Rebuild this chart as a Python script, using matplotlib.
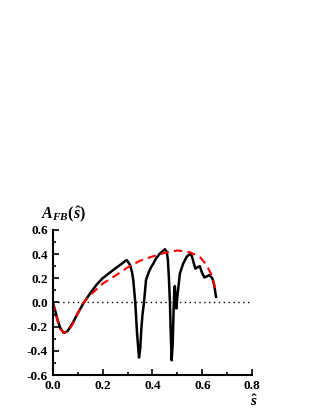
import matplotlib.pyplot as plt
import numpy as np
from matplotlib.ticker import MultipleLocator, FuncFormatter

plt.rcParams['font.family'] = 'Liberation Serif'
plt.rcParams['font.weight'] = 'bold'
plt.rcParams['mathtext.fontset'] = 'custom'
plt.rcParams['mathtext.it'] = 'Liberation Serif:italic:bold'
plt.rcParams['mathtext.rm'] = 'Liberation Serif:bold'

# full model (black)
s_full = [0, 0.01, 0.02, 0.03, 0.043, 0.05, 0.06, 0.08, 0.10, 0.125, 0.15, 0.175,
          0.2, 0.25, 0.28, 0.29, 0.297, 0.31, 0.318, 0.323, 0.331, 0.338, 0.346,
          0.351, 0.355, 0.36, 0.366, 0.374, 0.385, 0.394, 0.403, 0.415, 0.43,
          0.45, 0.457, 0.462, 0.466, 0.47, 0.474, 0.477, 0.481, 0.485, 0.488,
          0.490, 0.493, 0.496, 0.50, 0.51, 0.523, 0.537, 0.55, 0.558, 0.565,
          0.572, 0.58, 0.59, 0.598, 0.608, 0.618, 0.628, 0.64, 0.646, 0.651, 0.655]
afb_full = [0, -0.07, -0.15, -0.21, -0.25, -0.248, -0.235, -0.17, -0.09, 0.0, 0.075,
            0.145, 0.2, 0.28, 0.325, 0.342, 0.35, 0.31, 0.25, 0.185, 0.0, -0.25,
            -0.455, -0.38, -0.23, -0.1, 0.0, 0.185, 0.25, 0.29, 0.32, 0.365, 0.405,
            0.44, 0.42, 0.35, 0.2, 0.0, -0.3, -0.478, -0.35, -0.05, 0.12, 0.135,
            0.0, -0.05, 0.05, 0.24, 0.32, 0.377, 0.40, 0.385, 0.33, 0.28, 0.29,
            0.30, 0.25, 0.207, 0.215, 0.226, 0.20, 0.16, 0.1, 0.046]

# non-resonant (red dashed)
s_nr = [0, 0.01, 0.02, 0.03, 0.045, 0.06, 0.08, 0.10, 0.12, 0.15, 0.2, 0.25, 0.3,
        0.35, 0.4, 0.45, 0.5, 0.55, 0.59, 0.617, 0.637, 0.65, 0.655]
afb_nr = [0, -0.08, -0.16, -0.22, -0.25, -0.24, -0.18, -0.09, -0.01, 0.06, 0.155,
          0.22, 0.29, 0.345, 0.38, 0.41, 0.43, 0.415, 0.377, 0.31, 0.226, 0.13,
          0.075]

fig = plt.figure(figsize=(3.16, 4.09), dpi=100)
ax = fig.add_axes([0.167, 0.083, 0.631, 0.355])

ax.axhline(0, color='black', lw=1.0, ls=(0, (1, 2.5)))
ax.plot(s_full, afb_full, color='black', lw=1.8)
ax.plot(s_nr, afb_nr, color='red', lw=1.5, ls=(0, (4, 2.5)))

ax.set_xlim(0, 0.8)
ax.set_ylim(-0.6, 0.6)
ax.xaxis.set_major_locator(MultipleLocator(0.2))
ax.xaxis.set_minor_locator(MultipleLocator(0.1))
ax.yaxis.set_major_locator(MultipleLocator(0.2))
ax.yaxis.set_minor_locator(MultipleLocator(0.1))
fmt = FuncFormatter(lambda v, p: ('%.1f' % v).replace('-0.0', '0.0'))
ax.xaxis.set_major_formatter(fmt)
ax.yaxis.set_major_formatter(fmt)
ax.tick_params(which='both', direction='in', labelsize=9.5, width=1.2)
ax.tick_params(which='major', length=4)
ax.tick_params(which='minor', length=2.5)
ax.spines['top'].set_visible(False)
ax.spines['right'].set_visible(False)
ax.spines['left'].set_linewidth(1.5)
ax.spines['bottom'].set_linewidth(1.5)

fig.text(0.13, 0.465, r'$A_{FB}(\hat{s})$', fontsize=11.5)
fig.text(0.79, 0.008, r'$\hat{s}$', fontsize=11)

fig.savefig('out.png', dpi=100)
